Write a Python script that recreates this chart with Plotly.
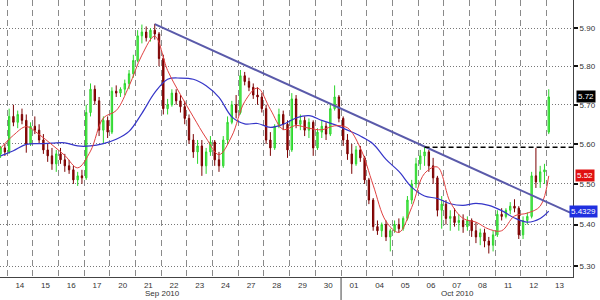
import plotly.graph_objects as go
import numpy as np

# ---------------- data ----------------
day_labels = ["14", "15", "16", "17", "20", "21", "22", "23", "24", "27", "28",
              "29", "30", "01", "04", "05", "06", "07", "08", "11", "12", "13"]
month_labels = ["Sep 2010", "Oct 2010"]
y_ticks = [5.30, 5.40, 5.50, 5.60, 5.70, 5.80, 5.90]
y_ticktext = ["5.30", "5.40", "5.50", "5.60", "5.70", "5.80", "5.90"]

# 4-hour bars (Sep 13 tail ... Oct 13 first bar)
open_ = [
    5.575, 5.59,
    5.58, 5.67, 5.655, 5.675, 5.66, 5.60,
    5.645, 5.635, 5.61, 5.585, 5.57, 5.55,
    5.575, 5.56, 5.545, 5.535, 5.51, 5.52,
    5.515, 5.68, 5.74, 5.71, 5.635, 5.66,
    5.63, 5.735, 5.73, 5.74, 5.755, 5.78,
    5.815, 5.88, 5.89, 5.875, 5.895, 5.885,
    5.82, 5.69, 5.70, 5.73, 5.71, 5.695,
    5.665, 5.61, 5.58, 5.595, 5.545, 5.58,
    5.605, 5.56, 5.545, 5.61, 5.655, 5.70,
    5.68, 5.775, 5.76, 5.745, 5.725, 5.72,
    5.69, 5.61, 5.59, 5.645, 5.675, 5.65,
    5.585, 5.715, 5.65, 5.66, 5.635, 5.655,
    5.59, 5.63, 5.645, 5.625, 5.69, 5.72,
    5.665, 5.61, 5.575, 5.55, 5.585, 5.565,
    5.51, 5.46, 5.395, 5.385, 5.40, 5.37,
    5.385, 5.40, 5.39, 5.415, 5.46, 5.50,
    5.55, 5.57, 5.58, 5.545, 5.515, 5.435,
    5.45, 5.415, 5.42, 5.405, 5.41, 5.395,
    5.41, 5.385, 5.37, 5.38, 5.36, 5.35,
    5.375, 5.425, 5.42, 5.435, 5.445, 5.44,
    5.375, 5.41, 5.42, 5.52, 5.505, 5.53,
    5.63,
]
high = [
    5.595, 5.60,
    5.69, 5.70, 5.685, 5.69, 5.675, 5.655,
    5.67, 5.65, 5.625, 5.60, 5.59, 5.585,
    5.59, 5.575, 5.56, 5.545, 5.53, 5.535,
    5.70, 5.755, 5.75, 5.72, 5.67, 5.67,
    5.745, 5.75, 5.745, 5.765, 5.79, 5.83,
    5.895, 5.91, 5.905, 5.90, 5.912, 5.89,
    5.83, 5.715, 5.74, 5.74, 5.725, 5.71,
    5.675, 5.625, 5.61, 5.61, 5.59, 5.62,
    5.61, 5.58, 5.62, 5.67, 5.71, 5.725,
    5.79, 5.785, 5.77, 5.755, 5.745, 5.73,
    5.70, 5.63, 5.65, 5.69, 5.685, 5.66,
    5.73, 5.725, 5.675, 5.67, 5.665, 5.66,
    5.64, 5.66, 5.655, 5.70, 5.75, 5.725,
    5.67, 5.625, 5.60, 5.595, 5.595, 5.57,
    5.515, 5.465, 5.41, 5.405, 5.41, 5.39,
    5.41, 5.415, 5.42, 5.47, 5.51, 5.565,
    5.585, 5.592, 5.585, 5.565, 5.52, 5.47,
    5.46, 5.435, 5.44, 5.425, 5.425, 5.42,
    5.415, 5.405, 5.39, 5.39, 5.37, 5.385,
    5.435, 5.44, 5.44, 5.455, 5.462, 5.445,
    5.42, 5.43, 5.53, 5.59, 5.545, 5.55,
    5.74,
]
low = [
    5.565, 5.57,
    5.575, 5.645, 5.64, 5.65, 5.578, 5.595,
    5.625, 5.60, 5.575, 5.555, 5.535, 5.53,
    5.55, 5.53, 5.525, 5.50, 5.495, 5.50,
    5.51, 5.67, 5.70, 5.62, 5.60, 5.615,
    5.625, 5.72, 5.72, 5.725, 5.74, 5.77,
    5.81, 5.86, 5.865, 5.865, 5.87, 5.80,
    5.675, 5.675, 5.695, 5.70, 5.68, 5.65,
    5.60, 5.565, 5.55, 5.52, 5.525, 5.57,
    5.545, 5.53, 5.54, 5.60, 5.65, 5.665,
    5.675, 5.75, 5.735, 5.715, 5.70, 5.68,
    5.60, 5.57, 5.585, 5.64, 5.635, 5.565,
    5.58, 5.64, 5.635, 5.62, 5.615, 5.57,
    5.585, 5.615, 5.61, 5.62, 5.685, 5.655,
    5.595, 5.56, 5.525, 5.545, 5.555, 5.50,
    5.45, 5.385, 5.375, 5.37, 5.36, 5.335,
    5.38, 5.38, 5.385, 5.41, 5.45, 5.49,
    5.535, 5.545, 5.53, 5.50, 5.42, 5.39,
    5.40, 5.385, 5.395, 5.385, 5.38, 5.385,
    5.37, 5.355, 5.35, 5.345, 5.33, 5.335,
    5.37, 5.41, 5.415, 5.425, 5.43, 5.365,
    5.365, 5.40, 5.415, 5.49, 5.49, 5.50,
    5.625,
]
close = [
    5.59, 5.58,
    5.67, 5.655, 5.675, 5.66, 5.60, 5.645,
    5.635, 5.61, 5.585, 5.57, 5.55, 5.575,
    5.56, 5.545, 5.535, 5.51, 5.52, 5.515,
    5.68, 5.74, 5.71, 5.635, 5.66, 5.63,
    5.735, 5.73, 5.74, 5.755, 5.78, 5.815,
    5.88, 5.89, 5.875, 5.895, 5.885, 5.82,
    5.69, 5.70, 5.73, 5.71, 5.695, 5.665,
    5.61, 5.58, 5.595, 5.545, 5.58, 5.605,
    5.56, 5.545, 5.61, 5.655, 5.70, 5.68,
    5.775, 5.76, 5.745, 5.725, 5.72, 5.69,
    5.61, 5.59, 5.645, 5.675, 5.65, 5.585,
    5.715, 5.65, 5.66, 5.635, 5.655, 5.59,
    5.63, 5.645, 5.625, 5.69, 5.72, 5.665,
    5.61, 5.575, 5.55, 5.585, 5.565, 5.51,
    5.46, 5.395, 5.385, 5.40, 5.37, 5.385,
    5.40, 5.39, 5.415, 5.46, 5.50, 5.55,
    5.57, 5.58, 5.545, 5.515, 5.435, 5.45,
    5.415, 5.42, 5.405, 5.41, 5.395, 5.41,
    5.385, 5.37, 5.38, 5.36, 5.35, 5.375,
    5.425, 5.42, 5.435, 5.445, 5.44, 5.375,
    5.41, 5.42, 5.52, 5.505, 5.53, 5.535,
    5.72,
]

# moving averages, sampled every 3 bars plus the final bar
ma_fast = [5.589, 5.622, 5.644, 5.624, 5.598, 5.571, 5.54, 5.582, 5.666, 5.685,
           5.748, 5.829, 5.879, 5.789, 5.726, 5.669, 5.615, 5.573, 5.62, 5.708,
           5.743, 5.688, 5.637, 5.647, 5.64, 5.636, 5.646, 5.641, 5.59, 5.497,
           5.408, 5.381, 5.442, 5.526, 5.542, 5.455, 5.415, 5.406, 5.389, 5.385,
           5.421, 5.428, 5.445, 5.52]
ma_slow = [5.57, 5.583, 5.599, 5.601, 5.602, 5.603, 5.595, 5.595, 5.601, 5.612,
           5.632, 5.678, 5.731, 5.766, 5.769, 5.766, 5.749, 5.719, 5.669, 5.651,
           5.652, 5.642, 5.65, 5.666, 5.672, 5.66, 5.649, 5.635, 5.62, 5.60,
           5.561, 5.531, 5.492, 5.47, 5.464, 5.451, 5.447, 5.452, 5.447, 5.434,
           5.416, 5.406, 5.415, 5.433]

trend_bars = [36, 133]          # trendline anchored at Sep 21 high, projected
trend_vals = [5.911, 5.429]
resistance_bar = 99             # Oct 6 high
resistance_val = 5.592
last_price = 5.72
fast_last = 5.52
slow_last = 5.4329

# ---------------- figure ----------------
BPD = 6          # bars per day
LEAD = 2         # bars of Sep 13 visible
n = len(close)
x = list(range(n))
ma_x = list(range(0, n - 2, 3)) + [n - 1]
x_min, x_max = -0.134, 133.66

fig = go.Figure()
fig.add_trace(go.Candlestick(
    x=x, open=open_, high=high, low=low, close=close,
    increasing=dict(line=dict(color="#2bd62b", width=1), fillcolor="#66f066"),
    decreasing=dict(line=dict(color="#7a0000", width=1), fillcolor="#990000"),
    whiskerwidth=0, showlegend=False, hoverinfo="skip"))
fig.add_trace(go.Scatter(x=ma_x, y=ma_slow, mode="lines", line=dict(color="#3535c8", width=1.2, shape="spline"),
                         showlegend=False, hoverinfo="skip"))
fig.add_trace(go.Scatter(x=ma_x, y=ma_fast, mode="lines", line=dict(color="#e04040", width=1, shape="spline"),
                         showlegend=False, hoverinfo="skip"))
fig.add_trace(go.Scatter(x=trend_bars, y=trend_vals, mode="lines", line=dict(color="#5a5aaa", width=2),
                         showlegend=False, hoverinfo="skip"))
fig.add_trace(go.Scatter(x=[resistance_bar, x_max], y=[resistance_val, resistance_val], mode="lines",
                         line=dict(color="#000000", width=1.5, dash="5px,3px"), showlegend=False, hoverinfo="skip"))

day_centers = [LEAD + BPD * d + (BPD - 1) / 2 for d in range(len(day_labels))]
day_bounds = [LEAD - 0.5 + BPD * d for d in range(len(day_labels))]

fig.update_layout(
    width=600, height=300,
    margin=dict(l=0, r=27, t=0, b=23),
    plot_bgcolor="white", paper_bgcolor="white",
    font=dict(family="Liberation Sans", size=8, color="#333"),
    showlegend=False,
    boxgap=0.55,
    xaxis=dict(
        range=[x_min, x_max], rangeslider=dict(visible=False),
        tickmode="array", tickvals=day_centers, ticktext=day_labels,
        showgrid=False, ticks="", zeroline=False,
        showline=True, linecolor="#444", linewidth=1,
        minor=dict(tickmode="array", tickvals=day_bounds, showgrid=True,
                   griddash="6px,4px", gridcolor="#8a8a8a", gridwidth=1, ticks=""),
    ),
    yaxis=dict(
        type="log", range=[0.722121, 0.776397], side="right",
        tickmode="array", tickvals=y_ticks, ticktext=y_ticktext,
        showgrid=True, griddash="1px,2px", gridcolor="#777", gridwidth=1,
        ticks="outside", ticklen=4, tickwidth=2, tickcolor="#111",
        showline=True, linecolor="#444", linewidth=1, zeroline=False,
    ),
)

# month separator
fig.add_shape(type="line", xref="x", yref="paper", x0=day_bounds[13], x1=day_bounds[13],
              y0=0, y1=-0.083, line=dict(color="#444", width=1))
for lbl, xm in zip(month_labels, [37.7, 106.6]):
    fig.add_annotation(text=lbl, xref="x", yref="paper", x=xm, y=-0.061, showarrow=False,
                       font=dict(size=8, color="#333"), yanchor="middle")

# value tags on the right
for val, txt, bg, xp in [(last_price, "5.72", "#000000", 1.005),
                         (fast_last, "5.52", "#e01010", 1.004),
                         (slow_last, "5.4329", "#2030e0", 0.993)]:
    fig.add_annotation(text=txt, xref="paper", yref="y", x=xp, y=np.log10(val), xanchor="left",
                       yanchor="middle", showarrow=False, bgcolor=bg, borderpad=1,
                       font=dict(size=8, color="white"))

fig.write_html("out.html")
